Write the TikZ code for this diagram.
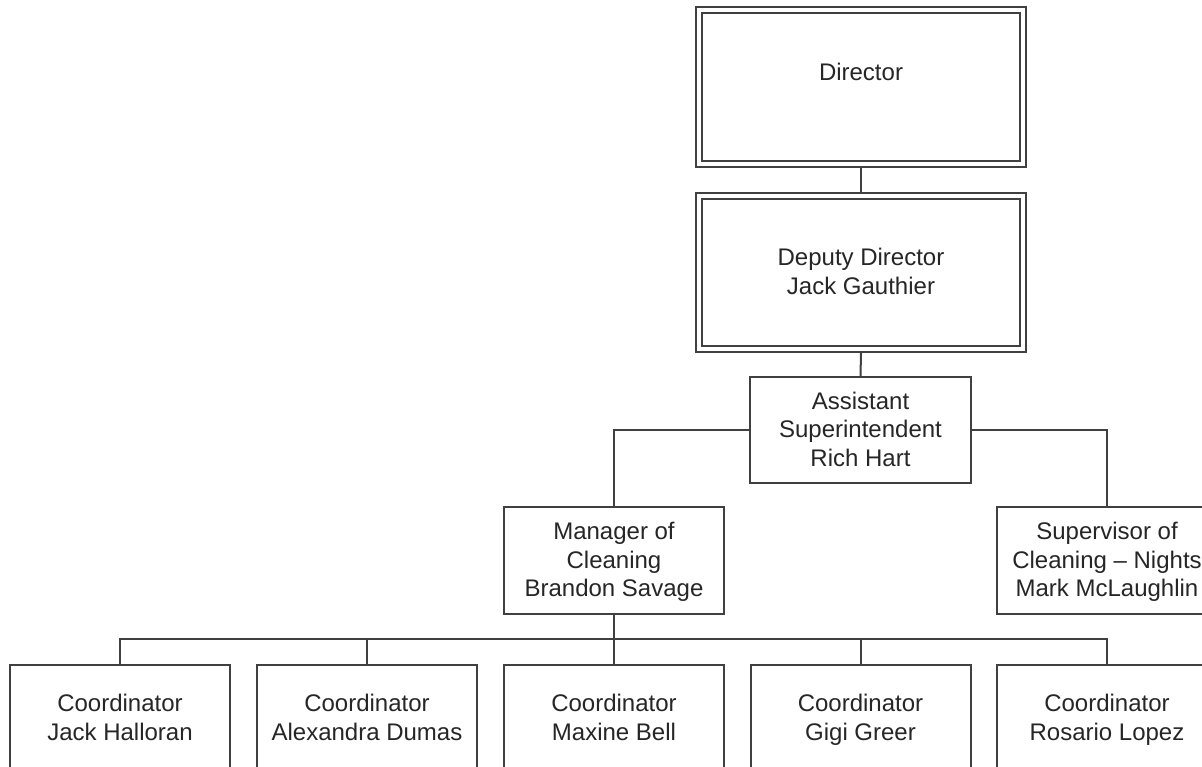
\documentclass[tikz,border=0pt]{standalone}
\usepackage{fontspec}
\setmainfont{Liberation Sans}
\newcommand\fstrut{\rule{0pt}{24pt}}
\begin{document}
\begin{tikzpicture}[x=1pt,y=-1pt,
  every node/.style={font=\fontsize{24}{28.5}\selectfont, text=black!85, align=center},
  box/.style={draw=black!75, line width=2pt, rectangle, minimum width=220pt, minimum height=107pt, inner sep=0pt},
  dbox/.style={draw=black!75, line width=1.8pt, double=white, double distance=4pt, rectangle, minimum width=324pt, minimum height=154pt, inner sep=0pt, outer sep=4pt},
  link/.style={draw=black!75, line width=2pt}]
\useasboundingbox (0,0) rectangle (1202,767);
\fill[white] (0,0) rectangle (1202,767);
\clip (0,0) rectangle (1202,767);

\node[dbox] (dir) at (861,87) {\fstrut Director\\\strut};
\node[dbox, minimum height=153pt] (dep) at (861,272.5) {\fstrut Deputy Director\\Jack Gauthier\strut};
\node[box, minimum width=221pt, minimum height=106pt] (asst) at (860.5,430) {\fstrut Assistant\\Superintendent\\Rich Hart\strut};
\node[box] (mgr) at (614,560.5) {\fstrut Manager of\\Cleaning\\Brandon Savage\strut};
\node[box] (sup) at (1107,560.5) {\fstrut Supervisor of\\Cleaning -- Nights\\Mark McLaughlin\strut};

\node[box] (c1) at (120,718.5) {\fstrut Coordinator\\Jack Halloran\strut};
\node[box] (c2) at (367,718.5) {\fstrut Coordinator\\Alexandra Dumas\strut};
\node[box] (c3) at (614,718.5) {\fstrut Coordinator\\Maxine Bell\strut};
\node[box] (c4) at (860.5,718.5) {\fstrut Coordinator\\Gigi Greer\strut};
\node[box] (c5) at (1107,718.5) {\fstrut Coordinator\\Rosario Lopez\strut};

\coordinate (bus) at (614,639);

\draw[link] (dir.south) -- (dep.north);
\draw[link] (dep.south) -- (asst.north);
\draw[link] (asst.west) -| (mgr.north);
\draw[link] (asst.east) -| (sup.north);
\draw[link] (mgr.south) -- (bus);
\draw[link] (c1.north) -- (c1.north |- bus) -- (c5.north |- bus) -- (c5.north);
\draw[link] (c2.north) -- (c2.north |- bus);
\draw[link] (c3.north) -- (c3.north |- bus);
\draw[link] (c4.north) -- (c4.north |- bus);
\end{tikzpicture}
\end{document}
